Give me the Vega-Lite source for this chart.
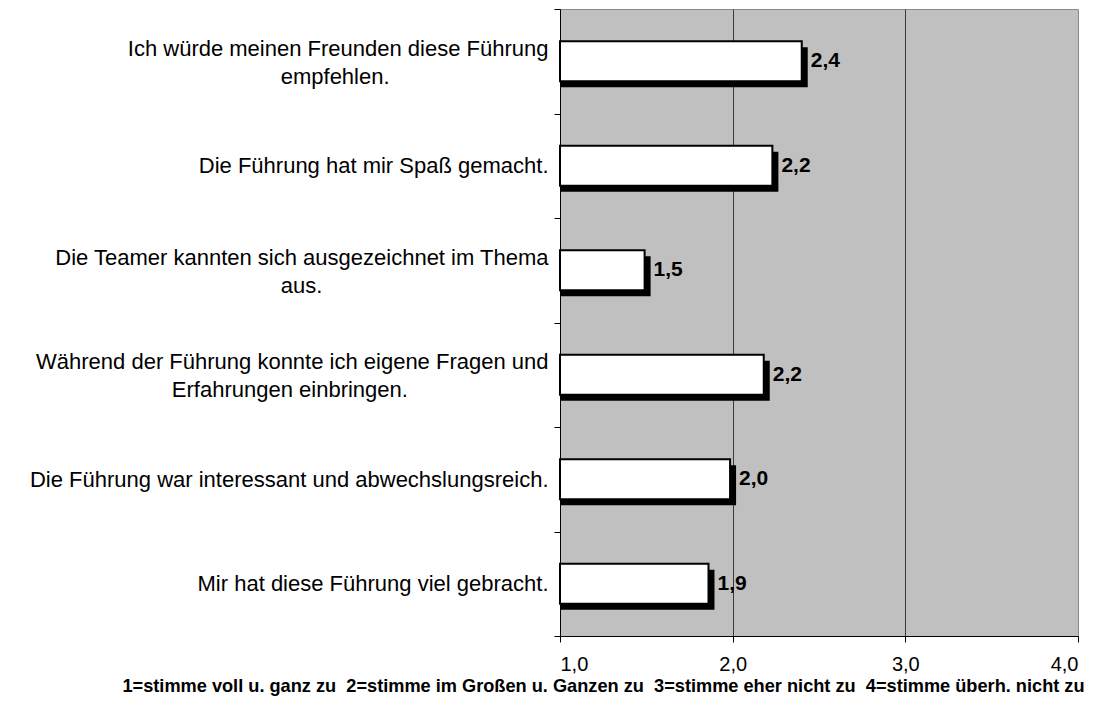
{
  "$schema": "https://vega.github.io/schema/vega-lite/v6.json",
  "autosize": "none",
  "width": 518,
  "height": 627,
  "padding": {"left": 560, "top": 9, "right": 41, "bottom": 78},
  "background": "white",
  "config": {
    "font": "Liberation Sans",
    "locale": {"number": {"decimal": ",", "thousands": ".", "grouping": [3], "currency": ["", " €"]}},
    "view": {"fill": "#C0C0C0", "stroke": "#8a8a8a", "strokeWidth": 1}
  },
  "data": {
    "values": [
      {"item": "Ich würde meinen Freunden diese Führung|empfehlen.", "value": 2.40},
      {"item": "Die Führung hat mir Spaß gemacht.", "value": 2.23},
      {"item": "Die Teamer kannten sich ausgezeichnet im Thema|aus.", "value": 1.49},
      {"item": "Während der Führung konnte ich eigene Fragen und|Erfahrungen einbringen.", "value": 2.18},
      {"item": "Die Führung war interessant und abwechslungsreich.", "value": 1.985},
      {"item": "Mir hat diese Führung viel gebracht.", "value": 1.86}
    ]
  },
  "encoding": {
    "y": {
      "field": "item",
      "type": "nominal",
      "sort": null,
      "scale": {"paddingInner": 0, "paddingOuter": 0},
      "axis": {
        "title": null,
        "labelExpr": "isValid(datum.value) ? (indexof(datum.value, '|') < 0 ? datum.value : [split(datum.value, '|')[0], pad(split(datum.value, '|')[1], length(split(datum.value, '|')[1]) + (indexof(datum.value, 'empfehlen') >= 0 ? 26 : (indexof(datum.value, 'Thema') >= 0 ? 37 : 23)), '\u00a0') + '\u200b']) : ''",
        "labelFontSize": 22,
        "labelColor": "black",
        "labelLineHeight": 28,
        "labelLimit": 600,
        "labelPadding": 6,
        "labelOffset": {"condition": {"test": "isValid(datum.value) && indexof(datum.value, '|') >= 0", "value": -13}, "value": 0},
        "tickBand": "extent",
        "tickSize": 6,
        "tickColor": "black",
        "domainColor": "black",
        "domainWidth": 1
      }
    }
  },
  "layer": [
    {
      "mark": {"type": "bar", "color": "black", "size": 40, "xOffset": 6, "yOffset": 6},
      "encoding": {
        "x": {
          "field": "value",
          "type": "quantitative",
          "scale": {"domain": [1, 4], "nice": false, "zero": false},
          "axis": {
            "values": [1, 2, 3, 4],
            "format": ".1f",
            "labelFontSize": 20,
            "labelColor": "black",
            "labelPadding": 12,
            "tickSize": 6,
            "tickColor": "black",
            "domainColor": "black",
            "grid": true,
            "gridColor": {"condition": {"test": "datum.value == 1 || datum.value == 4", "value": "transparent"}, "value": "#3a3a3a"},
            "gridWidth": 1,
            "title": "1=stimme voll u. ganz zu\u00a0 2=stimme im Großen u. Ganzen zu\u00a0 3=stimme eher nicht zu\u00a0 4=stimme überh. nicht zu",
            "titleFontSize": 18.2,
            "titleFontWeight": "bold",
            "titleColor": "black",
            "titleX": 43,
            "titleY": 50,
            "titleAlign": "center",
            "titleBaseline": "middle"
          }
        },
        "x2": {"datum": 1}
      }
    },
    {
      "mark": {"type": "bar", "color": "white", "stroke": "black", "strokeWidth": 2, "size": 40},
      "encoding": {
        "x": {"field": "value", "type": "quantitative"},
        "x2": {"datum": 1}
      }
    },
    {
      "mark": {"type": "text", "align": "left", "baseline": "middle", "dx": 9, "fontSize": 21, "fontWeight": "bold", "color": "black"},
      "encoding": {
        "x": {"field": "value", "type": "quantitative"},
        "text": {"field": "value", "type": "quantitative", "format": ".1f"}
      }
    }
  ]
}
